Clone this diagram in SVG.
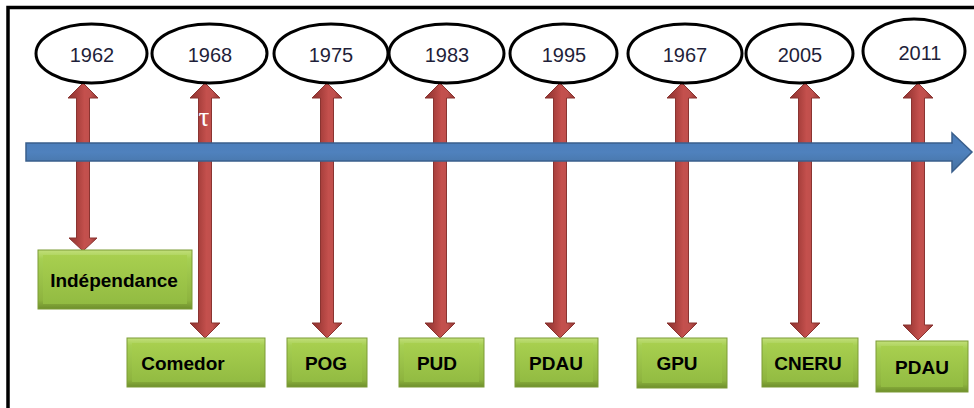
<svg xmlns="http://www.w3.org/2000/svg" width="974" height="408" viewBox="0 0 974 408">
<defs>
<linearGradient id="gRed" x1="0" y1="0" x2="1" y2="0">
<stop offset="0" stop-color="#8c3330"/>
<stop offset="0.3" stop-color="#a9403d"/>
<stop offset="0.55" stop-color="#c4504d"/>
<stop offset="0.75" stop-color="#c0504d"/>
<stop offset="1" stop-color="#8c3330"/>
</linearGradient>
<linearGradient id="gOuter" x1="0" y1="0" x2="0" y2="1">
<stop offset="0" stop-color="#c2df7a"/>
<stop offset="0.15" stop-color="#a6cf52"/>
<stop offset="0.85" stop-color="#8eb43f"/>
<stop offset="1" stop-color="#6e8f2c"/>
</linearGradient>
<linearGradient id="gInner" x1="0" y1="0" x2="0" y2="1">
<stop offset="0" stop-color="#a8cf4f"/>
<stop offset="1" stop-color="#92bb42"/>
</linearGradient>
<linearGradient id="gBlue" x1="0" y1="0" x2="0" y2="1">
<stop offset="0" stop-color="#4a7cba"/>
<stop offset="0.5" stop-color="#4f81bd"/>
<stop offset="1" stop-color="#44709f"/>
</linearGradient>
</defs>
<style>
.frame{fill:none;stroke:#000;stroke-width:3.5}
.yr ellipse{fill:#fff;stroke:#000;stroke-width:3}
.yr text{font-family:"Liberation Sans",Arial,sans-serif;font-size:20px;fill:#1f1f3a;text-anchor:middle}
.arr{fill:url(#gRed);stroke:#8a3431;stroke-width:1}
.box .o{fill:url(#gOuter);stroke:#7c9b36;stroke-width:1}
.box .i{fill:url(#gInner)}
.box text{font-family:"Liberation Sans",Arial,sans-serif;font-weight:bold;font-size:19px;fill:#000;text-anchor:middle}
.axis{fill:url(#gBlue);stroke:#3a5f8c;stroke-width:1.5}
</style>
<rect width="974" height="408" fill="#fff"/>
<path class="frame" d="M8,408 V7.5 H974"/>

<g id="connectors">
<polygon class="arr" points="83,83 98,98 89.5,98 89.5,238 97,238 83,251 69,238 76.5,238 76.5,98 68,98"/>
<polygon class="arr" points="205,83 220,98 211.5,98 211.5,323 220,323 205,338 190,323 198.5,323 198.5,98 190,98"/>
<polygon class="arr" points="327,83 342,98 333.5,98 333.5,323 342,323 327,338 312,323 320.5,323 320.5,98 312,98"/>
<polygon class="arr" points="440,83 455,98 446.5,98 446.5,323 455,323 440,338 425,323 433.5,323 433.5,98 425,98"/>
<polygon class="arr" points="560,83 575,98 566.5,98 566.5,323 575,323 560,338 545,323 553.5,323 553.5,98 545,98"/>
<polygon class="arr" points="682,83 697,98 688.5,98 688.5,323 697,323 682,338 667,323 675.5,323 675.5,98 667,98"/>
<polygon class="arr" points="805,83 820,98 811.5,98 811.5,323 820,323 805,338 790,323 798.5,323 798.5,98 790,98"/>
<polygon class="arr" points="918,83 933,98 924.5,98 924.5,325 933,325 918,340 903,325 911.5,325 911.5,98 903,98"/>
<text x="204" y="126" font-family="Liberation Serif,serif" font-size="27" fill="#fff" text-anchor="middle">τ</text>
<polygon class="axis" points="26,143 952,143 952,133 972,152 952,172 952,161 26,161"/>
</g>

<g id="y1962" class="yr"><ellipse cx="91.5" cy="53.5" rx="55.5" ry="29.5"/><text x="92" y="62">1962</text></g>
<g id="y1968" class="yr"><ellipse cx="209.5" cy="53.5" rx="57.5" ry="29.5"/><text x="210" y="62">1968</text></g>
<g id="y1975" class="yr"><ellipse cx="331" cy="53.5" rx="57" ry="29.5"/><text x="331" y="62">1975</text></g>
<g id="y1983" class="yr"><ellipse cx="446.5" cy="53.5" rx="57.5" ry="29.5"/><text x="447" y="62">1983</text></g>
<g id="y1995" class="yr"><ellipse cx="563.5" cy="53.5" rx="53.5" ry="29.5"/><text x="564" y="62">1995</text></g>
<g id="y1967" class="yr"><ellipse cx="685" cy="53.5" rx="57" ry="29.5"/><text x="685" y="62">1967</text></g>
<g id="y2005" class="yr"><ellipse cx="799.5" cy="53.5" rx="53.5" ry="29.5"/><text x="800" y="62">2005</text></g>
<g id="y2011" class="yr"><ellipse cx="914" cy="51" rx="51" ry="32"/><text x="920" y="60">2011</text></g>

<g id="b-independance" class="box"><rect class="o" x="38" y="250" width="154" height="59"/><rect class="i" x="43" y="255" width="144" height="49"/><text x="114" y="287">Indépendance</text></g>
<g id="b-comedor" class="box"><rect class="o" x="127" y="338" width="138" height="49"/><rect class="i" x="132" y="343" width="128" height="39"/><text x="183" y="370">Comedor</text></g>
<g id="b-pog" class="box"><rect class="o" x="287" y="338" width="80" height="49"/><rect class="i" x="292" y="343" width="70" height="39"/><text x="326" y="370">POG</text></g>
<g id="b-pud" class="box"><rect class="o" x="399" y="338" width="85" height="49"/><rect class="i" x="404" y="343" width="75" height="39"/><text x="437" y="370">PUD</text></g>
<g id="b-pdau1" class="box"><rect class="o" x="515" y="338" width="83" height="49"/><rect class="i" x="520" y="343" width="73" height="39"/><text x="556" y="370">PDAU</text></g>
<g id="b-gpu" class="box"><rect class="o" x="637" y="338" width="90" height="50"/><rect class="i" x="642" y="343" width="80" height="40"/><text x="677" y="370">GPU</text></g>
<g id="b-cneru" class="box"><rect class="o" x="762" y="338" width="96" height="49"/><rect class="i" x="767" y="343" width="86" height="39"/><text x="808" y="370">CNERU</text></g>
<g id="b-pdau2" class="box"><rect class="o" x="876" y="341" width="92" height="51"/><rect class="i" x="881" y="346" width="82" height="41"/><text x="922" y="374">PDAU</text></g>
</svg>
